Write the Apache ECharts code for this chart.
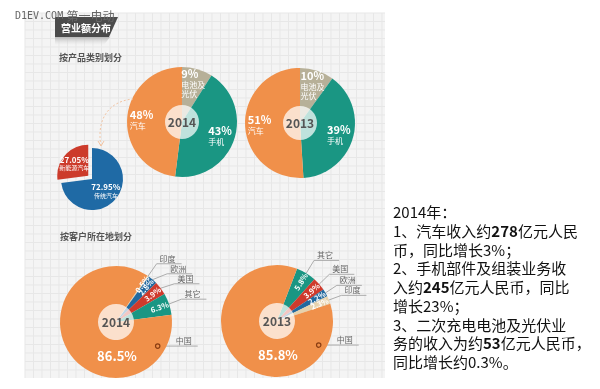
<!DOCTYPE html>
<html><head><meta charset="utf-8">
<script src="https://cdn.jsdelivr.net/npm/echarts@6/dist/echarts.min.js"></script>
<style>html,body{margin:0;padding:0;background:#fff;}#c{width:600px;height:389px;}</style>
</head><body><div id="c"></div>
<script>
// ---------- data ----------
const productNames = ['电池及光伏', '手机', '汽车'];
const productLabels = ['电池及\n光伏', '手机', '汽车'];
const product2014 = [9, 43, 48];
const product2013 = [10, 39, 51];
const carNames = ['新能源汽车', '传统汽车'];
const car2014 = [27.05, 72.95];
const region2014Names = ['印度', '欧洲', '美国', '其它', '中国'];
const region2014 = [0.5, 2.8, 3.9, 6.3, 86.5];
const region2013Names = ['其它', '美国', '欧洲', '印度', '中国'];
const region2013 = [5.8, 3.9, 2.2, 2.3, 85.8];
const titleMain = '营业额分布';
const titleProduct = '按产品类别划分';
const titleRegion = '按客户所在地划分';
const watermarkLatin = 'D1EV.COM';
const watermarkCJK = '第一电动';
const noteText = '2014年：\n1、汽车收入约{b|278}亿元人民\n币，同比增长3%；\n2、手机部件及组装业务收\n入约{b|245}亿元人民币，同比\n增长23%；\n3、二次充电电池及光伏业\n务的收入为约{b|53}亿元人民币，\n同比增长约0.3%。';

// ---------- style ----------
const FONT = '"Noto Sans CJK SC", "Noto Sans", sans-serif';
const C = {orange:'#f0904a', teal:'#1a9683', sand:'#b7b098', red:'#cf3a2c', blue:'#22699f', india:'#e6d2ad', carBlue:'#1f6aa5', carRed:'#cc3b2b'};
const productColors = [C.sand, C.teal, C.orange];
const regionColor = {'印度':C.india, '欧洲':C.blue, '美国':C.red, '其它':C.teal, '中国':C.orange};
const CLEAR = 'rgba(0,0,0,0)';
const OVERLAY = 'rgba(255,255,255,0.72)';

function base(center, startAngle, clockwise) {
  return {type:'pie', center:center, startAngle:startAngle, clockwise:clockwise, animation:false, silent:true,
          avoidLabelOverlap:false, itemStyle:{borderWidth:0}, emphasis:{disabled:true}};
}

function productPie(center, values, year) {
  const R = 55;
  return [
    Object.assign(base(center, 90, true), {radius:[0, R],
      data: values.map((v,i)=>({value:v, name:productNames[i], itemStyle:{color:productColors[i]}})),
      label:{show:false}, labelLine:{show:false}}),
    Object.assign(base(center, 90, true), {radius:[0, 17],
      data:[{value:1, name:year, itemStyle:{color:OVERLAY}}],
      label:{show:true, position:'center', formatter:year, fontFamily:FONT, fontSize:12, fontWeight:'bold', color:'#555'},
      labelLine:{show:false}}),
    Object.assign(base(center, 90, true), {radius:[20, R],
      data: values.map((v,i)=>({value:v, name:productLabels[i], itemStyle:{color:CLEAR}})),
      label:{show:true, position:'inside', formatter: p => '{p|' + p.value + '%}\n{n|' + p.name + '}',
        rich:{p:{fontFamily:FONT, fontSize:11, fontWeight:'bold', color:'#fff', lineHeight:13, align:'left'},
              n:{fontFamily:FONT, fontSize:8, color:'#fff', lineHeight:9, align:'left'}}},
      labelLine:{show:false}})
  ];
}

function regionPie(center, names, values, year, startAngle) {
  const R = 56;
  const chinaIdx = names.indexOf('中国');
  const series = [
    Object.assign(base(center, startAngle, true), {radius:[0, R],
      data: values.map((v,i)=>({value:v, name:names[i], itemStyle:{color:regionColor[names[i]]}})),
      label:{show:false}, labelLine:{show:false}}),
    Object.assign(base(center, startAngle, true), {radius:[0, 18],
      data:[{value:1, name:year, itemStyle:{color:OVERLAY}}],
      label:{show:true, position:'center', formatter:year, fontFamily:FONT, fontSize:12, fontWeight:'bold', color:'#555'},
      labelLine:{show:false}}),
    Object.assign(base(center, startAngle, true), {radius:[30, R],
      data: values.map((v,i)=>{
        const d = {value:v, name:names[i], itemStyle:{color:CLEAR}};
        if (i === chinaIdx) d.label = {fontSize:13, rotate:0};
        return d;
      }),
      label:{show:true, position:'inside', rotate:'radial', formatter:'{c}%', fontFamily:FONT, fontSize:7.5, fontWeight:'bold', color:'#fff'},
      labelLine:{show:false},
      labelLayout: function (p) {
        if (p.dataIndex !== chinaIdx) return {};
        return {x:center[0] + 1, y:center[1] + R * 0.6, align:'center', verticalAlign:'middle', rotate:0};
      }}),
    Object.assign(base(center, startAngle, true), {radius:[0, R],
      data: values.map((v,i)=>({value:v, name:names[i], itemStyle:{color:CLEAR}})),
      label:{show:true, position:'outside', formatter:'{b}', fontFamily:FONT, fontSize:8, color:'#666', distanceToLabelLine:2},
      labelLine:{show:true, length:15, length2:4, lineStyle:{color:'#9a9a9a', width:0.8}},
      avoidLabelOverlap:true,
      labelLayout: function (p) {
        const rect = p.labelRect;
        if (p.dataIndex === chinaIdx) {
          const a = -30 * Math.PI / 180, r = R * 0.86;
          const x0 = center[0] + r * Math.cos(a), y0 = center[1] - r * Math.sin(a);
          return {x:x0 + 18, y:y0 - 1, align:'left', verticalAlign:'bottom',
                  labelLinePoints:[[x0, y0], [x0 + 1, y0], [x0 + 40, y0]]};
        }
        const pts = p.labelLinePoints;
        if (!pts) return {};
        const p0 = [pts[0][0], pts[0][1]], p1 = [pts[1][0], pts[1][1]];
        return {x:p1[0] + 3, y:p1[1] - 1, align:'left', verticalAlign:'bottom',
                labelLinePoints:[p0, p1, [p1[0] + rect.width + 9, p1[1]]]};
      }})
  ];
  return series;
}

const carPie = Object.assign(base([92, 179], 90, false), {radius:[0, 31], selectedMode:'single', selectedOffset:5,
  data: car2014.map((v,i)=>({value:v, name:carNames[i], selected: i === 0, itemStyle:{color: i === 0 ? C.carRed : C.carBlue}})),
  label:{show:true, position:'inside', formatter:'{p|{c}%}\n{n|{b}}',
    rich:{p:{fontFamily:FONT, fontSize:8, fontWeight:'bold', color:'#fff', lineHeight:9},
          n:{fontFamily:FONT, fontSize:6, color:'#fff', lineHeight:8}}},
  labelLine:{show:false}});

// ---------- background panel ----------
const panel = {x0:25, y0:13, x1:385, y1:378, step:8.5};
const bg = [{type:'rect', z:0, silent:true, shape:{x:panel.x0, y:panel.y0, width:panel.x1-panel.x0, height:panel.y1-panel.y0}, style:{fill:'#f4f4f4'}}];
for (let x = panel.x0; x <= panel.x1; x += panel.step) bg.push({type:'line', z:0, silent:true, shape:{x1:x, y1:panel.y0, x2:x, y2:panel.y1}, style:{stroke:'#e7e7e7', lineWidth:1}});
for (let y = panel.y0; y <= panel.y1; y += panel.step) bg.push({type:'line', z:0, silent:true, shape:{x1:panel.x0, y1:y, x2:panel.x1, y2:y}, style:{stroke:'#e7e7e7', lineWidth:1}});

const chinaMarkers = [[[116,322], -30], [[277,321], -30]].map(([c, deg]) => {
  const a = deg * Math.PI / 180, r = 56 * 0.86;
  return {type:'circle', z:20, silent:true, shape:{cx:c[0] + r*Math.cos(a), cy:c[1] - r*Math.sin(a), r:2.2}, style:{fill:C.orange, stroke:'#8a3d12', lineWidth:1.2}};
});

const graphics = bg.concat([
  {type:'polygon', z:5, silent:true, shape:{points:[[55,37],[110,37],[104,45],[55,45]]},
   style:{fill:{type:'linear', x:0, y:0, x2:0, y2:1, colorStops:[{offset:0, color:'#b8b8b8'},{offset:1, color:'rgba(220,220,220,0)'}]}}},
  {type:'polygon', z:6, silent:true, shape:{points:[[55,17],[118,17],[109,37],[55,37]]}, style:{fill:'#4b4b4b'}},
  {type:'text', z:7, silent:true, style:{text:titleMain, x:61, y:28, verticalAlign:'middle', font:'bold 10px ' + FONT, fill:'#fff'}},
  {type:'text', z:7, silent:true, style:{text:'{l|' + watermarkLatin + '} {c|' + watermarkCJK + '}', x:15, y:16, verticalAlign:'middle',
    rich:{l:{fontFamily:'"DejaVu Sans Mono", monospace', fontSize:10, fill:'#666'}, c:{fontFamily:FONT, fontSize:12, fill:'#666'}}}},
  {type:'text', z:7, silent:true, style:{text:titleProduct, x:59, y:58, verticalAlign:'middle', font:'bold 9px ' + FONT, fill:'#555'}},
  {type:'text', z:7, silent:true, style:{text:titleRegion, x:60, y:237, verticalAlign:'middle', font:'bold 9px ' + FONT, fill:'#555'}},
  {type:'bezierCurve', z:3, silent:true, shape:{x1:101, y1:146, cpx1:96, cpy1:118, cpx2:110, cpy2:101, x2:133, y2:99},
   style:{stroke:'#f2c4a2', lineWidth:1, lineDash:[2,2], fill:null}},
  {type:'polyline', z:3, silent:true, shape:{points:[[98,141],[101,146],[104,141]]}, style:{stroke:'#f2c4a2', lineWidth:1, fill:null}},
  {type:'text', z:10, silent:true, style:{text:noteText, x:393, y:203, fontFamily:FONT, fontSize:15, lineHeight:18.75, fill:'#111',
    rich:{b:{fontFamily:FONT, fontSize:15, fontWeight:'bold', lineHeight:18.75, fill:'#111'}}}}
]).concat(chinaMarkers);

const option = {
  backgroundColor:'#ffffff',
  animation:false,
  graphic:{elements:graphics},
  series: [].concat(
    productPie([182, 122], product2014, '2014'),
    productPie([300, 123], product2013, '2013'),
    [carPie],
    regionPie([116, 322], region2014Names, region2014, '2014', 56),
    regionPie([277, 321], region2013Names, region2013, '2013', 69)
  )
};
const chart = echarts.init(document.getElementById('c'), null, {renderer:'canvas'});
chart.setOption(option);
</script></body></html>
